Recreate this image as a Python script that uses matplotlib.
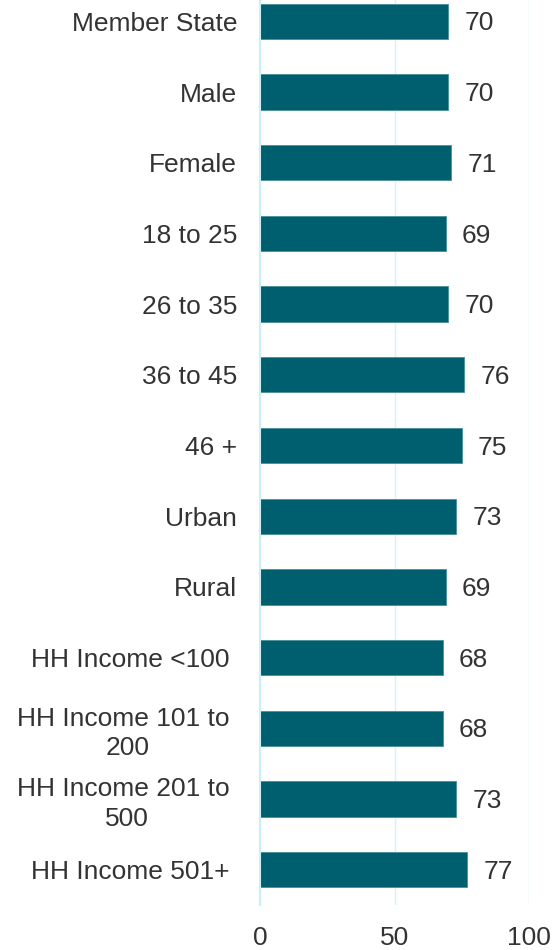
import numpy as np
import matplotlib
matplotlib.use('Agg')
import matplotlib.pyplot as plt

# Category labels (top to bottom) and values
labels = ['Member State', 'Male', 'Female', '18 to 25', '26 to 35', '36 to 45',
          '46 +', 'Urban', 'Rural', 'HH Income <100 ', 'HH Income 101 to \n200',
          'HH Income 201 to \n500', 'HH Income 501+ ']
values = [70, 70, 71, 69, 70, 76, 75, 73, 69, 68, 68, 73, 77]
xticks = [0, 50, 100]

barcol = '#005f6f'
gridcol = '#d6f3f7'
txtcol = '#333333'
fs = 19

plt.rcParams['font.family'] = ['Liberation Sans', 'DejaVu Sans']

fig = plt.figure(figsize=(5.55, 9.5), dpi=100)
# axes extends a little above the canvas, like the cropped original
ax = fig.add_axes([260/555, 1 - 905/950, 269/555, 919/950])

y = np.arange(len(labels))
ax.barh(y, values, height=0.5, color=barcol, edgecolor='#4a8f9a', linewidth=0.6, zorder=3)

for yy, v in zip(y, values):
    ax.text(v + 6.0, yy + 0.03, str(v), va='center', ha='left', fontsize=fs, color=txtcol)

ax.set_xlim(0, 100)
ax.set_ylim(len(labels) - 0.5, -0.5)
ax.set_yticks(y)
ax.set_yticklabels(labels, fontsize=fs, color=txtcol, multialignment='center',
                   linespacing=1.3)
ax.set_xticks(xticks)
ax.set_xticklabels([str(t) for t in xticks], fontsize=fs, color=txtcol)

ax.tick_params(axis='y', length=0, pad=16.5)
ax.tick_params(axis='x', length=0, pad=15)

for s in ['top', 'right', 'bottom']:
    ax.spines[s].set_visible(False)
ax.spines['left'].set_color('#c8f0f6')
ax.spines['left'].set_linewidth(1.5)
ax.spines['left'].set_zorder(4)

ax.grid(axis='x', color=gridcol, linewidth=1.0, zorder=0)
ax.set_axisbelow(True)

plt.savefig('out.png', dpi=100)
